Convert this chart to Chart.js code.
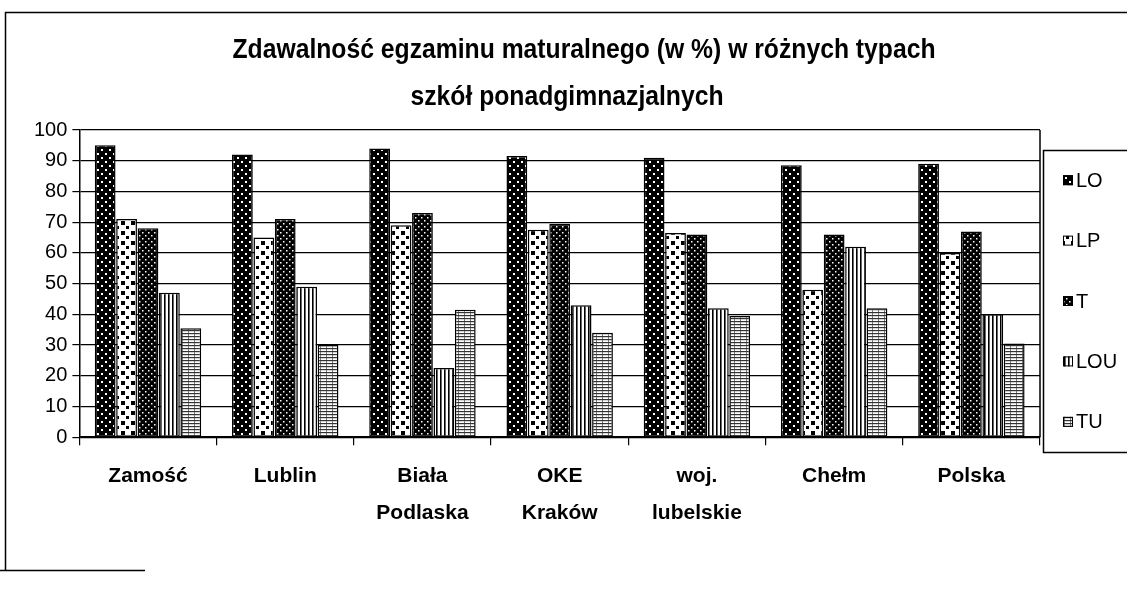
<!DOCTYPE html>
<html>
<head>
<meta charset="utf-8">
<script src="https://cdn.jsdelivr.net/npm/chart.js@4.4.1/dist/chart.umd.min.js"></script>
<style>
html,body{margin:0;padding:0;background:#fff;}
canvas{display:block;}
</style>
</head>
<body>
<canvas id="c" width="1127" height="600"></canvas>
<script>
// ---- data ----
const titleLines = ["Zdawalność egzaminu maturalnego (w %) w różnych typach", "szkół ponadgimnazjalnych"];
const categories = [["Zamość"], ["Lublin"], ["Biała", "Podlaska"], ["OKE", "Kraków"], ["woj.", "lubelskie"], ["Chełm"], ["Polska"]];
const seriesNames = ["LO", "LP", "T", "LOU", "TU"];
const LO  = [95, 92, 94, 91.5, 91, 88.5, 89];
const LP  = [71, 65, 69, 67.5, 66.5, 48, 60];
const T   = [68, 71, 73, 69.5, 66, 66, 67];
const LOU = [47, 49, 22.5, 43, 42, 62, 40];
const TU  = [35.5, 30, 41.5, 34, 39.5, 42, 30.5];
const yMin = 0, yMax = 100, yStep = 10;

// ---- patterns ----
function mkPattern(w, h, draw) {
  const c = document.createElement('canvas');
  c.width = w; c.height = h;
  const g = c.getContext('2d');
  draw(g, w, h);
  return g.createPattern(c, 'repeat');
}
const patLO = mkPattern(8, 8, (g) => {
  g.fillStyle = '#000'; g.fillRect(0, 0, 8, 8);
  g.fillStyle = '#fff';
  g.fillRect(1, 1, 2, 2); g.fillRect(5, 5, 2, 2);
});
const patLP = mkPattern(10, 10, (g) => {
  g.fillStyle = '#fff'; g.fillRect(0, 0, 10, 10);
  g.fillStyle = '#000';
  g.fillRect(1, 1, 4, 4); g.fillRect(6, 6, 3, 3);
});
const patT = mkPattern(6, 6, (g) => {
  g.fillStyle = '#000'; g.fillRect(0, 0, 6, 6);
  g.fillStyle = '#fff';
  g.fillRect(1, 1, 1.5, 1.5); g.fillRect(4, 4, 1.5, 1.5);
});
const patLOU = mkPattern(4, 4, (g) => {
  g.fillStyle = '#fff'; g.fillRect(0, 0, 4, 4);
  g.fillStyle = '#000'; g.fillRect(0, 0, 1.6, 4);
});
const patTU = mkPattern(6, 3, (g) => {
  g.fillStyle = '#fff'; g.fillRect(0, 0, 6, 3);
  g.fillStyle = '#333'; g.fillRect(0, 0, 6, 1.2);
  g.fillStyle = '#777'; g.fillRect(2, 1, 1, 2);
});
const patterns = [patLO, patLP, patT, patLOU, patTU];
const seriesData = [LO, LP, T, LOU, TU];

const FONT = "'Liberation Sans', Arial, sans-serif";

// ---- frame, title, right border ----
const framePlugin = {
  id: 'frame',
  beforeDraw(chart) {
    const ctx = chart.ctx;
    ctx.save();
    ctx.fillStyle = '#fff';
    ctx.fillRect(0, 0, chart.width, chart.height);
    ctx.strokeStyle = '#000';
    ctx.lineWidth = 1.5;
    ctx.beginPath();
    ctx.moveTo(5.5, 570); ctx.lineTo(5.5, 12.5); ctx.lineTo(1127, 12.5);
    ctx.moveTo(0, 570.5); ctx.lineTo(145, 570.5);
    ctx.stroke();
    // condensed bold title (Arial Narrow look)
    ctx.fillStyle = '#000';
    ctx.font = "bold 28px " + FONT;
    ctx.textAlign = 'center';
    ctx.textBaseline = 'middle';
    const w1 = ctx.measureText(titleLines[0]).width;
    const sx = 703 / w1;
    const pos = [[584, 50], [567, 97]];
    titleLines.forEach((t, i) => {
      ctx.save();
      ctx.translate(pos[i][0], pos[i][1]);
      ctx.scale(sx, 1);
      ctx.fillText(t, 0, 0);
      ctx.restore();
    });
    ctx.restore();
  },
  afterDatasetsDraw(chart) {
    const ctx = chart.ctx, a = chart.chartArea;
    ctx.save();
    ctx.strokeStyle = '#000';
    ctx.lineWidth = 1.5;
    ctx.beginPath();
    ctx.moveTo(a.right, a.top); ctx.lineTo(a.right, a.bottom);
    ctx.stroke();
    ctx.restore();
  }
};

// ---- custom legend (box cut off at the right like the scan) ----
const legendPlugin = {
  id: 'boxLegend',
  afterDraw(chart) {
    const ctx = chart.ctx;
    const x0 = 1043, y0 = 150, y1 = 452;
    ctx.save();
    ctx.strokeStyle = '#000';
    ctx.lineWidth = 1.5;
    ctx.strokeRect(x0 + 0.5, y0 + 0.5, 120, y1 - y0);
    const n = chart.data.datasets.length;
    const step = (y1 - y0) / n;
    chart.data.datasets.forEach((ds, i) => {
      const cy = y0 + step * (i + 0.5);
      ctx.fillStyle = ds.backgroundColor;
      ctx.fillRect(1063, cy - 5, 10, 10);
      ctx.lineWidth = 1;
      ctx.strokeRect(1063.5, cy - 4.5, 9, 9);
      ctx.fillStyle = '#000';
      ctx.font = "20px " + FONT;
      ctx.textBaseline = 'middle';
      ctx.textAlign = 'left';
      ctx.fillText(ds.label, 1076, cy + 1);
    });
    ctx.restore();
  }
};

new Chart(document.getElementById('c'), {
  type: 'bar',
  data: {
    labels: categories,
    datasets: seriesNames.map((name, i) => ({
      label: name,
      data: seriesData[i],
      backgroundColor: patterns[i],
      borderColor: '#000',
      borderWidth: 1.5,
      borderSkipped: false,
      categoryPercentage: 0.78,
      barPercentage: 0.97
    }))
  },
  options: {
    responsive: false,
    animation: false,
    devicePixelRatio: 1,
    layout: { padding: { top: 130, right: 87, bottom: 56, left: 29 } },
    plugins: {
      legend: { display: false },
      tooltip: { enabled: false },
      title: { display: false }
    },
    scales: {
      x: {
        grid: { display: true, offset: true, drawOnChartArea: false, drawTicks: true, tickLength: 8, color: '#000', lineWidth: 1.2 },
        border: { display: true, color: '#000', width: 1.5 },
        ticks: {
          color: '#000',
          font: { family: FONT, size: 21, weight: 'bold', lineHeight: 1.78 },
          padding: 12,
          maxRotation: 0,
          autoSkip: false
        }
      },
      y: {
        min: yMin, max: yMax,
        grid: { color: '#000', lineWidth: 1.2, tickLength: 7, drawTicks: true },
        border: { display: true, color: '#000', width: 1.5 },
        ticks: {
          stepSize: yStep,
          color: '#000',
          font: { family: FONT, size: 20 },
          padding: 5
        }
      }
    }
  },
  plugins: [framePlugin, legendPlugin]
});
</script>
</body>
</html>
